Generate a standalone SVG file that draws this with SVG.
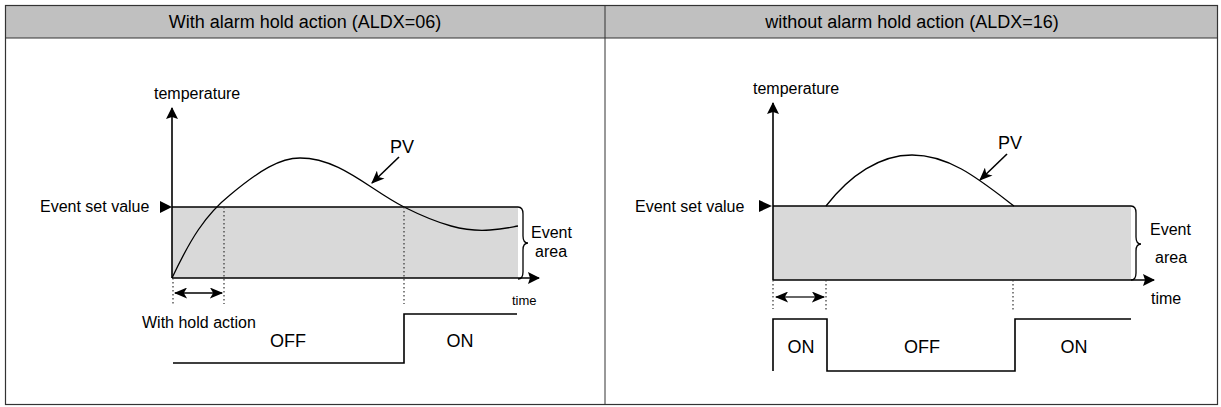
<svg xmlns="http://www.w3.org/2000/svg" width="1221" height="407" viewBox="0 0 1221 407">
<style>
text{font-family:"Liberation Sans",Arial,sans-serif;fill:#000}
.h{font-size:18px;text-anchor:middle}
.l{font-size:16px}
.s{font-size:18px;text-anchor:middle}
.ax{stroke:#000;stroke-width:1.6;fill:none}
.ln{stroke:#000;stroke-width:1.3;fill:none}
.dot{stroke:#333;stroke-width:1.2;stroke-dasharray:1.5 2.5;fill:none}
.area{fill:#d9d9d9;stroke:none}
.sig{stroke:#000;stroke-width:1.6;fill:none}
</style>
<defs>
<marker id="ah" viewBox="0 0 12 12" refX="11" refY="6" markerWidth="13" markerHeight="12" markerUnits="userSpaceOnUse" orient="auto-start-reverse">
<path d="M0,0 L12,6 L0,12 L2,6 z" fill="#000"/>
</marker>
<marker id="ahb" viewBox="0 0 12 10" refX="11" refY="5" markerWidth="14" markerHeight="11" markerUnits="userSpaceOnUse" orient="auto-start-reverse">
<path d="M0,0 L12,5 L0,10 L3,5 z" fill="#000"/>
</marker>
</defs>
<g id="frame">
<rect x="5" y="5" width="1212" height="33" fill="#c0c0c0" stroke="none"/>
<rect x="5.5" y="5.5" width="1212" height="399" fill="none" stroke="#333" stroke-width="1.2"/>
<line x1="5" y1="38" x2="1217" y2="38" stroke="#333" stroke-width="1"/>
<line x1="605" y1="5" x2="605" y2="405" stroke="#333" stroke-width="1"/>
<text class="h" x="305" y="28">With alarm hold action (ALDX=06)</text>
<text class="h" x="912" y="28">without alarm hold action (ALDX=16)</text>
</g>
<g id="left-chart">
<rect class="area" x="172" y="207" width="346" height="71"/>
<line class="ln" x1="172" y1="207" x2="518" y2="207"/>
<path class="ln" d="M172,278 C190,240 205,215 230,195 C260,170 280,158 300,158 C340,158 370,190 404,207 C440,225 465,232 490,230 C505,229 512,227 518,226"/>
<path class="ln" d="M518,207 q5,0 5,7 v22 q0,7 5,7 q-5,0 -5,7 v22 q0,7 -5,7"/>
<line class="ax" x1="172" y1="278" x2="172" y2="108" marker-end="url(#ah)"/>
<line class="ax" x1="172" y1="278" x2="539" y2="278" marker-end="url(#ah)"/>
<path d="M160,201 L172,207 L160,213 z" fill="#000"/>
<text class="l" x="154" y="99">temperature</text>
<text class="l" x="40" y="212">Event set value</text>
<text class="l" x="531" y="238">Event</text>
<text class="l" x="535" y="257">area</text>
<text x="512" y="305" style="font-size:13px">time</text>
<text class="l" x="142" y="328">With hold action</text>
<text x="402" y="153" style="font-size:18px" text-anchor="middle">PV</text>
<line class="ax" x1="399" y1="157" x2="372" y2="183" marker-end="url(#ahb)"/>
<line class="dot" x1="224" y1="207" x2="224" y2="304"/>
<line class="dot" x1="404" y1="207" x2="404" y2="304"/>
<line class="dot" x1="173" y1="278" x2="173" y2="306"/>
<line class="ax" x1="175" y1="293" x2="222" y2="293" marker-start="url(#ahb)" marker-end="url(#ahb)"/>
<path class="sig" d="M173,363 H404 V314 H517"/>
<text class="s" x="288" y="347">OFF</text>
<text class="s" x="460" y="347">ON</text>
</g>
<g id="right-chart">
<rect class="area" x="773" y="206" width="358" height="74"/>
<line class="ln" x1="773" y1="206" x2="1131" y2="206"/>
<path class="ln" d="M826,206 C850,175 880,155 912,155 C950,155 980,180 1014,206"/>
<path class="ln" d="M1131,206 q5,0 5,7 v24 q0,7 5,7 q-5,0 -5,7 v22 q0,7 -5,7"/>
<line class="ax" x1="773" y1="280" x2="773" y2="103" marker-end="url(#ah)"/>
<line class="ax" x1="773" y1="280" x2="1154" y2="280" marker-end="url(#ah)"/>
<path d="M759,200 L772,206 L759,212 z" fill="#000"/>
<text class="l" x="753" y="94">temperature</text>
<text class="l" x="635" y="212">Event set value</text>
<text class="l" x="1150" y="235">Event</text>
<text class="l" x="1155" y="263">area</text>
<text class="l" x="1151" y="304">time</text>
<text x="1010" y="149" style="font-size:18px" text-anchor="middle">PV</text>
<line class="ax" x1="1007" y1="154" x2="980" y2="180" marker-end="url(#ahb)"/>
<line class="dot" x1="826" y1="280" x2="826" y2="310"/>
<line class="dot" x1="1013" y1="280" x2="1013" y2="310"/>
<line class="dot" x1="773" y1="280" x2="773" y2="309"/>
<line x1="776" y1="297" x2="824" y2="297" stroke="#666" stroke-width="2" marker-start="url(#ahb)" marker-end="url(#ahb)"/>
<path class="sig" d="M773,371 V319 H827 V371 H1015 V319 H1131"/>
<text class="s" x="801" y="353">ON</text>
<text class="s" x="922" y="353">OFF</text>
<text class="s" x="1074" y="353">ON</text>
</g>
</svg>
